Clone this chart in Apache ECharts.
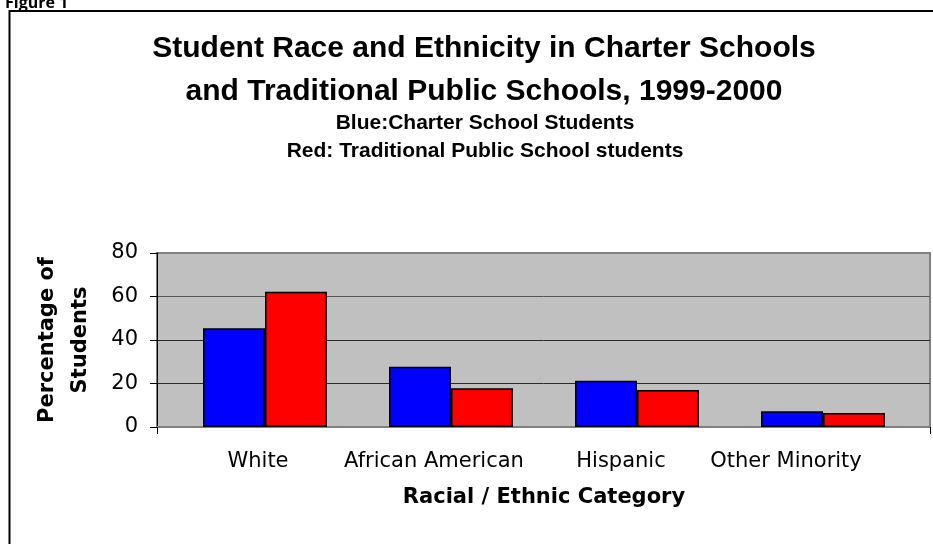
<!DOCTYPE html>
<html>
<head>
<meta charset="utf-8">
<script src="https://cdn.jsdelivr.net/npm/echarts@6/dist/echarts.min.js"></script>
<style>
html,body{margin:0;padding:0;background:#fff;}
#chart{width:933px;height:544px;}
</style>
</head>
<body>
<div id="chart"></div>
<script>
const categories = ['White', 'African American', 'Hispanic', 'Other Minority'];
const charterPct = [45.4, 27.7, 21.3, 7.2];
const traditionalPct = [62.2, 17.8, 17.0, 6.4];
const yTicks = [0, 20, 40, 60, 80];

const yMin = yTicks[0], yMax = yTicks[yTicks.length - 1], yStep = yTicks[1] - yTicks[0];
const FONT = '"DejaVu Sans", sans-serif';

const chart = echarts.init(document.getElementById('chart'), null, {renderer: 'canvas'});
const plotTop = 253, plotBottom = 117;

const labelData = categories.map(function (c) {
  return c === 'Hispanic' ? {value: c, textStyle: {padding: [0, 0, 0, 22]}} : c;
});

chart.setOption({
  backgroundColor: '#ffffff',
  animation: false,
  graphic: [{
    type: 'rect', silent: true,
    shape: {x: 9.5, y: 11, width: 1000, height: 1000},
    style: {fill: null, stroke: '#000', lineWidth: 2}
  }],
  title: [
    {text: 'Figure 1', left: 0, top: -10,
     textStyle: {fontFamily: '"Open Sans", sans-serif', fontWeight: 'bold', fontSize: 16, lineHeight: 16, color: '#000'}},
    {text: 'Student Race and Ethnicity in Charter Schools\nand Traditional Public Schools, 1999-2000',
     left: 479, top: 22, textAlign: 'center',
     textStyle: {fontFamily: '"Liberation Sans", Arial, sans-serif', fontWeight: 'bold', fontSize: 30, lineHeight: 43, color: '#000'}},
    {text: 'Blue:Charter School Students\nRed: Traditional Public School students',
     left: 480, top: 104, textAlign: 'center',
     textStyle: {fontFamily: '"Liberation Sans", Arial, sans-serif', fontWeight: 'bold', fontSize: 21, lineHeight: 28, color: '#000'}}
  ],
  grid: [
    {left: 157, right: 3, top: plotTop, bottom: plotBottom, show: true, backgroundColor: '#c0c0c0', borderColor: '#808080', borderWidth: 2},
    {left: 172, right: 17, top: plotTop, bottom: plotBottom},
    {left: 170, right: 59, top: plotTop, bottom: plotBottom}
  ],
  xAxis: [
    {gridIndex: 0, type: 'category', data: [''], boundaryGap: true,
     axisLine: {show: true, lineStyle: {color: '#808080', width: 2}},
     axisTick: {show: true, length: 7, lineStyle: {color: '#000', width: 1}},
     axisLabel: {show: false}, splitLine: {show: false}},
    {gridIndex: 1, type: 'category', data: categories,
     axisLine: {show: false}, axisTick: {show: false}, axisLabel: {show: false},
     name: 'Racial / Ethnic Category', nameLocation: 'middle', nameGap: 60,
     nameTextStyle: {fontFamily: FONT, fontWeight: 'bold', fontSize: 21, color: '#000'}},
    {gridIndex: 2, type: 'category', data: labelData,
     axisLine: {show: false}, axisTick: {show: false},
     axisLabel: {show: true, margin: 24, fontFamily: FONT, fontSize: 21, color: '#000', interval: 0}}
  ],
  yAxis: [
    {gridIndex: 0, type: 'value', min: yMin, max: yMax, interval: yStep,
     axisLine: {show: true, lineStyle: {color: '#000', width: 1}},
     axisTick: {show: true, length: 7, lineStyle: {color: '#000'}},
     axisLabel: {margin: 19, fontFamily: FONT, fontSize: 21, color: '#000'},
     splitLine: {show: true, lineStyle: {color: ['#808080', '#2a2a2a', '#2a2a2a', '#555555', '#808080'], width: 1}},
     name: 'Percentage of\nStudents', nameLocation: 'middle', nameGap: 60, nameRotate: 90,
     nameTextStyle: {fontFamily: FONT, fontWeight: 'bold', fontSize: 21, lineHeight: 33, color: '#000', align: 'center'}},
    {gridIndex: 1, type: 'value', min: yMin, max: yMax, interval: yStep, show: false},
    {gridIndex: 2, type: 'value', min: yMin, max: yMax, interval: yStep, show: false}
  ],
  series: [
    {name: 'Charter School Students', type: 'bar', xAxisIndex: 1, yAxisIndex: 1,
     data: charterPct, barWidth: 62, barGap: '0%',
     itemStyle: {color: '#0000ff', borderColor: '#000', borderWidth: 1.5}},
    {name: 'Traditional Public School students', type: 'bar', xAxisIndex: 1, yAxisIndex: 1,
     data: traditionalPct, barWidth: 62, barGap: '0%',
     itemStyle: {color: '#ff0000', borderColor: '#000', borderWidth: 1.5}}
  ]
});
</script>
</body>
</html>
